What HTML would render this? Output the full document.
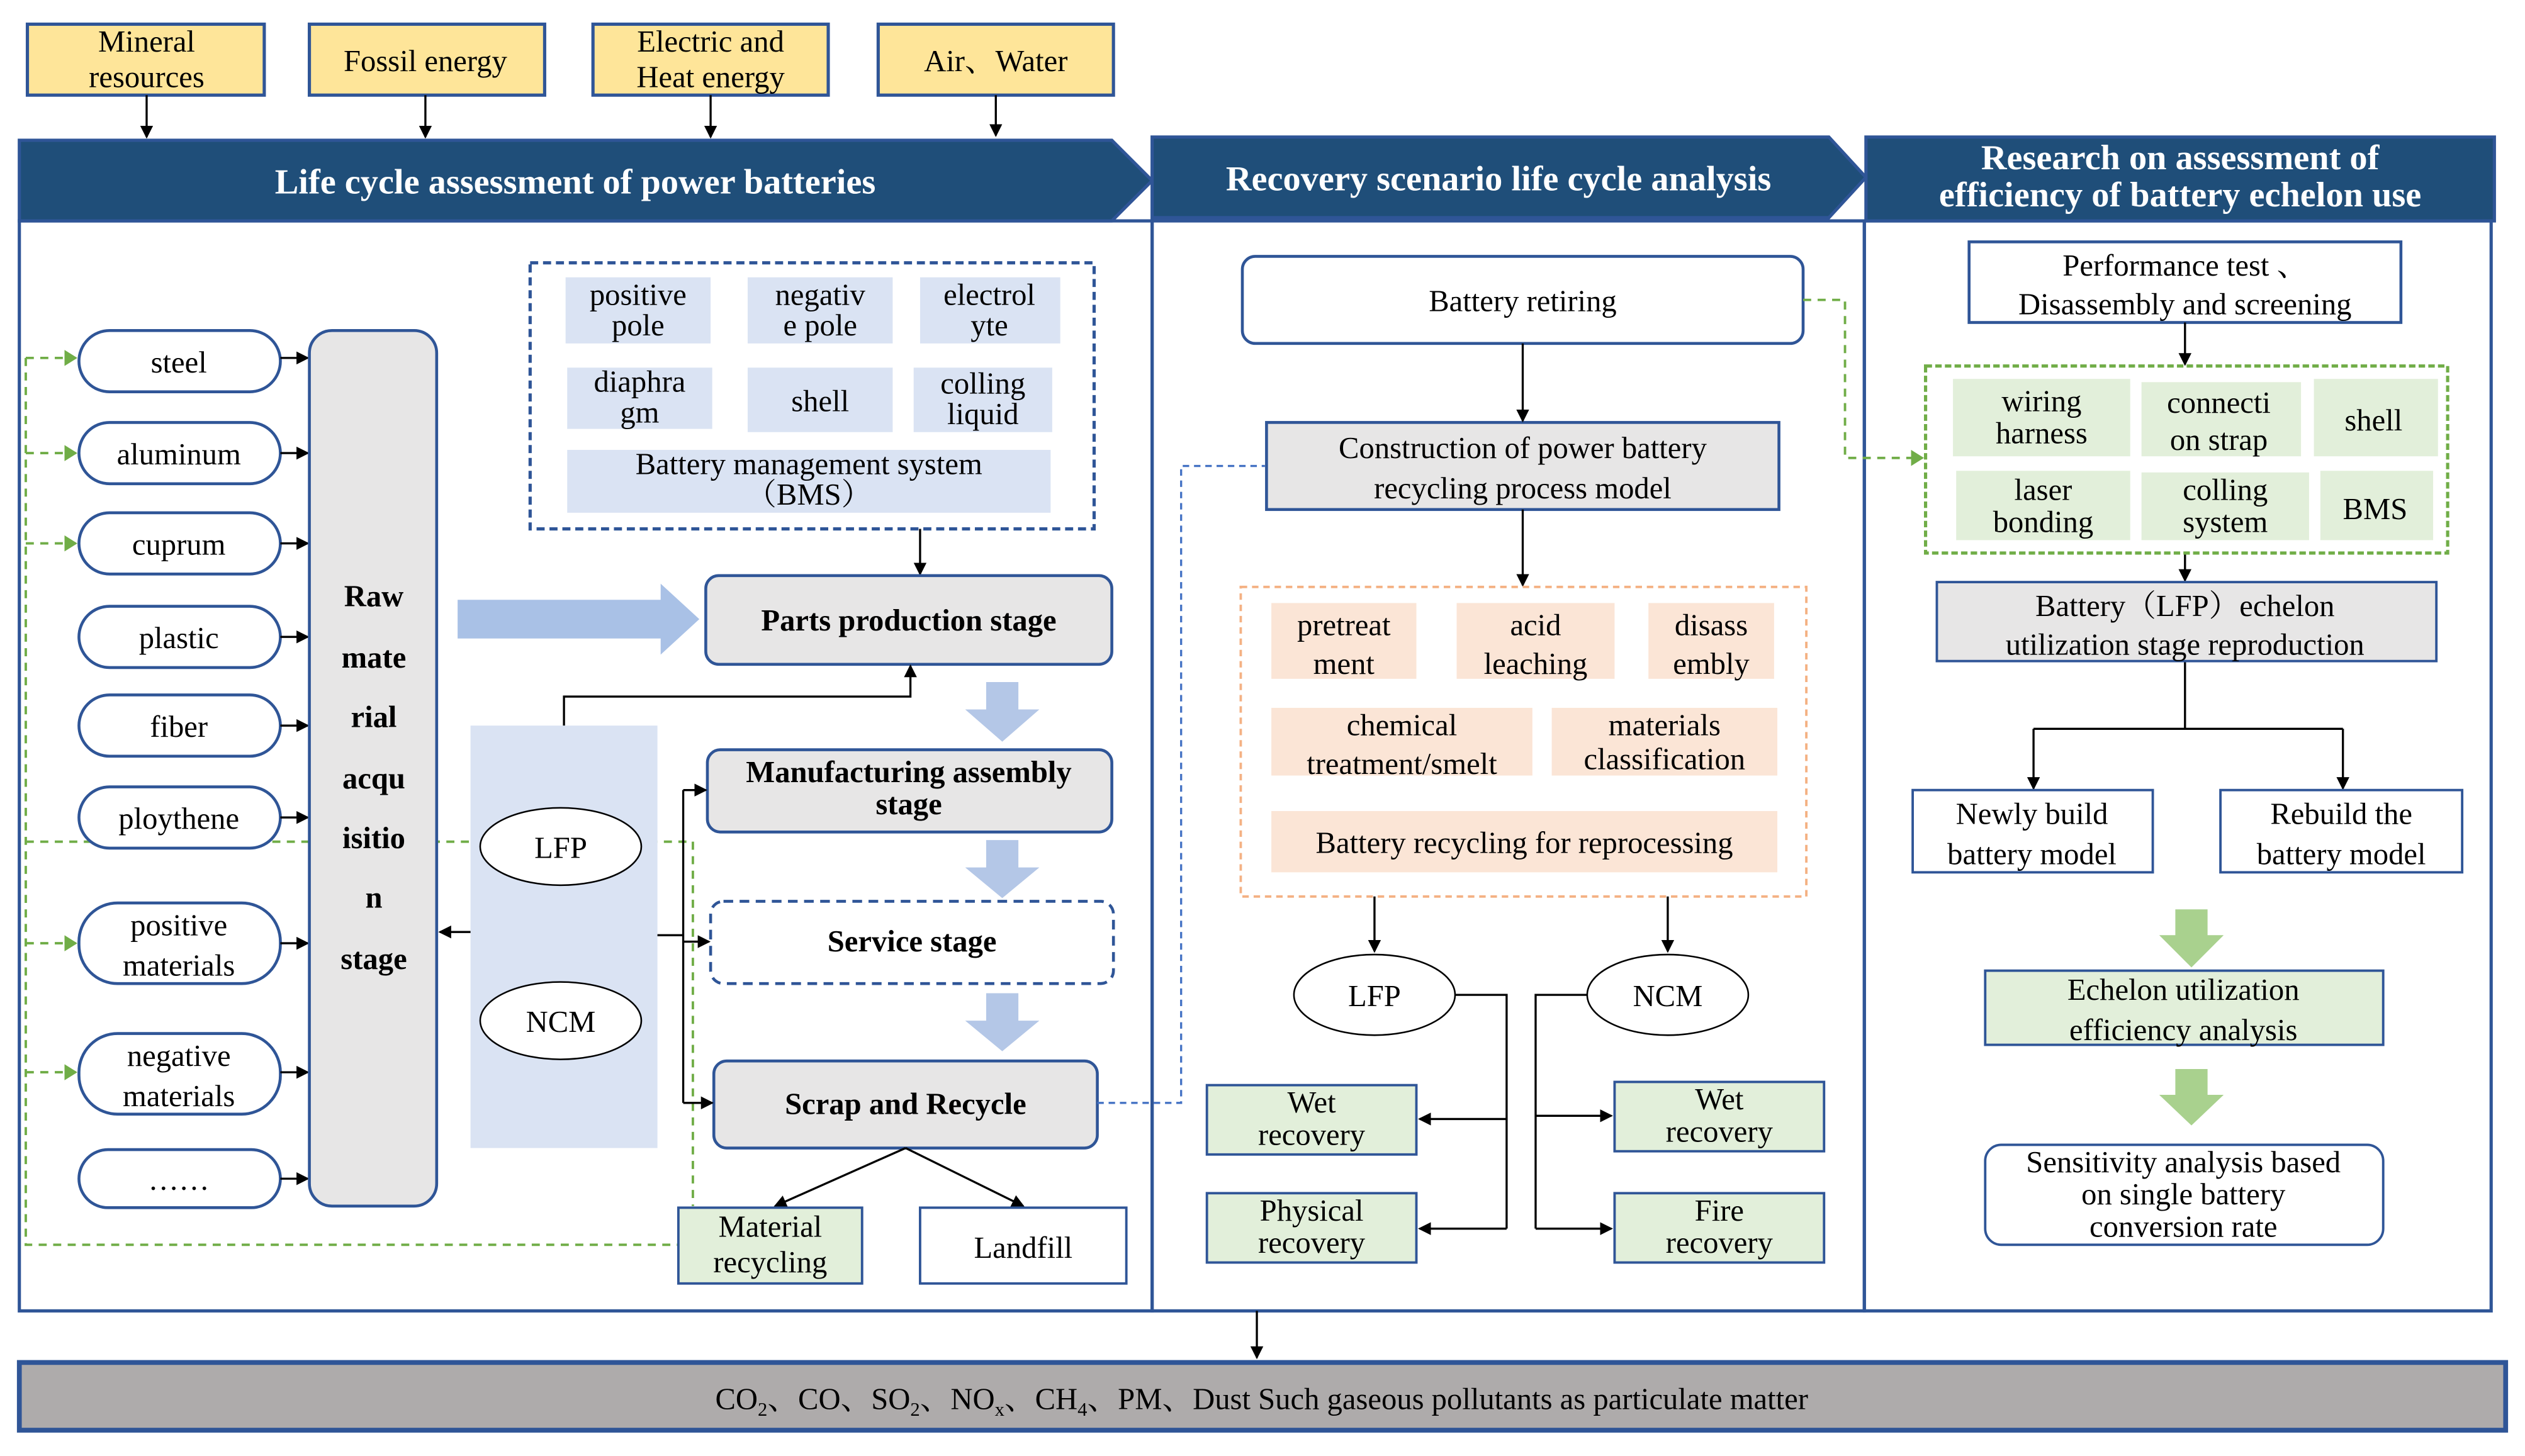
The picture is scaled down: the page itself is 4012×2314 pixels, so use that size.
<!DOCTYPE html>
<html><head><meta charset="utf-8"><style>
html,body{margin:0;padding:0;background:#fff;}
svg{display:block;}
text{font-family:"Liberation Serif","Noto Serif CJK SC",serif;font-size:19px;fill:#000;text-anchor:middle;}
.b{font-weight:bold;}
.w{fill:#fff;font-weight:bold;font-size:22px;}
</style></head><body>
<svg width="4012" height="2314" viewBox="0 0 1567 903" preserveAspectRatio="none" xmlns="http://www.w3.org/2000/svg">
<defs>
<marker id="a" markerWidth="8" markerHeight="8" refX="7" refY="4" orient="auto" markerUnits="userSpaceOnUse"><path d="M0,0 L8,4 L0,8z" fill="#000"/></marker>
<marker id="g" markerWidth="8" markerHeight="10" refX="7" refY="5" orient="auto" markerUnits="userSpaceOnUse"><path d="M0,0 L8,5 L0,10z" fill="#70ad47"/></marker>
</defs>
<g stroke="#2f5597" stroke-width="2" fill="#fee599">
<rect x="17" y="15" width="147" height="44"/><rect x="192" y="15" width="146" height="44"/>
<rect x="368" y="15" width="146" height="44"/><rect x="545" y="15" width="146" height="44"/>
</g>
<text x="91" y="32">Mineral</text><text x="91" y="54">resources</text>
<text x="264" y="44">Fossil energy</text>
<text x="441" y="32">Electric and</text><text x="441" y="54">Heat energy</text>
<text x="618" y="44">Air、Water</text>
<g stroke="#000" stroke-width="1.3" marker-end="url(#a)">
<line x1="91" y1="59" x2="91" y2="85"/><line x1="264" y1="59" x2="264" y2="85"/>
<line x1="441" y1="59" x2="441" y2="85"/><line x1="618" y1="59" x2="618" y2="84"/>
</g>
<g fill="#1f4e79" stroke="#2f5597" stroke-width="2">
<polygon points="12,87 690,87 715,112 690,137 12,137"/>
<polygon points="715,85 1135,85 1158,110 1135,135 715,135"/>
<rect x="1158" y="85" width="390" height="52"/>
</g>
<text class="w" x="357" y="120">Life cycle assessment of power batteries</text>
<text class="w" x="930" y="118">Recovery scenario life cycle analysis</text>
<text class="w" x="1353" y="105">Research on assessment of</text>
<text class="w" x="1353" y="128">efficiency of battery echelon use</text>
<g fill="none" stroke="#2f5597" stroke-width="2">
<rect x="12" y="137" width="703" height="676"/><rect x="715" y="137" width="442" height="676"/><rect x="1157" y="137" width="389" height="676"/>
</g>
<line x1="780" y1="813" x2="780" y2="842" stroke="#000" stroke-width="1.3" marker-end="url(#a)"/>
<rect x="12" y="845" width="1543" height="42" fill="#aeabab" stroke="#2f5597" stroke-width="3"/>
<text x="783" y="874">CO<tspan font-size="12" dy="4">2</tspan><tspan dy="-4">、CO、SO</tspan><tspan font-size="12" dy="4">2</tspan><tspan dy="-4">、NO</tspan><tspan font-size="12" dy="4">x</tspan><tspan dy="-4">、CH</tspan><tspan font-size="12" dy="4">4</tspan><tspan dy="-4">、PM、Dust Such gaseous pollutants as particulate matter</tspan></text>

<g fill="none" stroke="#70ad47" stroke-width="1.5" stroke-dasharray="5,4">
<polyline points="16,222 16,772 421,772"/>
<line x1="16" y1="522" x2="430" y2="522"/><line x1="430" y1="522" x2="430" y2="748"/>
<line x1="16" y1="222" x2="47" y2="222" marker-end="url(#g)"/>
<line x1="16" y1="281" x2="47" y2="281" marker-end="url(#g)"/>
<line x1="16" y1="337" x2="47" y2="337" marker-end="url(#g)"/>
<line x1="16" y1="585" x2="47" y2="585" marker-end="url(#g)"/>
<line x1="16" y1="665" x2="47" y2="665" marker-end="url(#g)"/>
</g>
<g fill="#fff" stroke="#2f5597" stroke-width="1.8">
<rect x="49" y="205" width="125" height="38" rx="19"/><rect x="49" y="262" width="125" height="38" rx="19"/>
<rect x="49" y="318" width="125" height="38" rx="19"/><rect x="49" y="376" width="125" height="38" rx="19"/>
<rect x="49" y="431" width="125" height="38" rx="19"/><rect x="49" y="488" width="125" height="38" rx="19"/>
<rect x="49" y="560" width="125" height="50" rx="24"/><rect x="49" y="641" width="125" height="50" rx="24"/>
<rect x="49" y="713" width="125" height="36" rx="18"/>
</g>
<text x="111" y="231">steel</text><text x="111" y="288">aluminum</text><text x="111" y="344">cuprum</text>
<text x="111" y="402">plastic</text><text x="111" y="457">fiber</text><text x="111" y="514">ploythene</text>
<text x="111" y="580">positive</text><text x="111" y="605">materials</text>
<text x="111" y="661">negative</text><text x="111" y="686">materials</text><text x="111" y="738">……</text>
<g stroke="#000" stroke-width="1.3" marker-end="url(#a)">
<line x1="174" y1="222" x2="191" y2="222"/><line x1="174" y1="281" x2="191" y2="281"/><line x1="174" y1="337" x2="191" y2="337"/>
<line x1="174" y1="395" x2="191" y2="395"/><line x1="174" y1="450" x2="191" y2="450"/><line x1="174" y1="507" x2="191" y2="507"/>
<line x1="174" y1="585" x2="191" y2="585"/><line x1="174" y1="665" x2="191" y2="665"/><line x1="174" y1="731" x2="191" y2="731"/>
</g>
<rect x="192" y="205" width="79" height="543" rx="14" fill="#e7e6e6" stroke="#2f5597" stroke-width="1.8"/>
<text class="b" x="232" y="376">Raw</text><text class="b" x="232" y="414">mate</text><text class="b" x="232" y="451">rial</text>
<text class="b" x="232" y="489">acqu</text><text class="b" x="232" y="526">isitio</text><text class="b" x="232" y="563">n</text><text class="b" x="232" y="601">stage</text>

<rect x="329" y="163" width="350" height="165" fill="none" stroke="#2f5597" stroke-width="2" stroke-dasharray="5,3"/>
<g fill="#dae3f3">
<rect x="351" y="172" width="90" height="41"/><rect x="464" y="172" width="90" height="41"/><rect x="571" y="172" width="87" height="41"/>
<rect x="352" y="228" width="90" height="38"/><rect x="464" y="228" width="90" height="40"/><rect x="567" y="228" width="86" height="40"/>
<rect x="352" y="279" width="300" height="39"/>
</g>
<text x="396" y="189">positive</text><text x="396" y="208">pole</text>
<text x="509" y="189">negativ</text><text x="509" y="208">e pole</text>
<text x="614" y="189">electrol</text><text x="614" y="208">yte</text>
<text x="397" y="243">diaphra</text><text x="397" y="262">gm</text>
<text x="509" y="255">shell</text>
<text x="610" y="244">colling</text><text x="610" y="263">liquid</text>
<text x="502" y="294">Battery management system</text><text x="502" y="313">（BMS）</text>
<line x1="571" y1="328" x2="571" y2="356" stroke="#000" stroke-width="1.3" marker-end="url(#a)"/>
<polygon points="284,372 410,372 410,362 434,384 410,406 410,396 284,396" fill="#a9c1e6"/>
<g stroke="#2f5597" stroke-width="1.8">
<rect x="438" y="357" width="252" height="55" rx="8" fill="#e7e6e6"/>
<rect x="439" y="465" width="251" height="51" rx="8" fill="#e7e6e6"/>
<rect x="441" y="559" width="250" height="51" rx="8" fill="#fff" stroke-dasharray="6,4"/>
<rect x="443" y="658" width="238" height="54" rx="8" fill="#e7e6e6"/>
</g>
<text class="b" x="564" y="391">Parts production stage</text>
<text class="b" x="564" y="485">Manufacturing assembly</text><text class="b" x="564" y="505">stage</text>
<text class="b" x="566" y="590">Service stage</text>
<text class="b" x="562" y="691">Scrap and Recycle</text>
<g fill="#b4c7e7">
<polygon points="612,423 632,423 632,440 645,440 622,460 599,440 612,440"/>
<polygon points="612,521 632,521 632,538 645,538 622,557 599,538 612,538"/>
<polygon points="612,616 632,616 632,633 645,633 622,652 599,633 612,633"/>
</g>
<rect x="292" y="450" width="116" height="262" fill="#dae3f3"/>
<ellipse cx="348" cy="525" rx="50" ry="24" fill="#fff" stroke="#000" stroke-width="1"/>
<ellipse cx="348" cy="633" rx="50" ry="24" fill="#fff" stroke="#000" stroke-width="1"/>
<text x="348" y="532">LFP</text><text x="348" y="640">NCM</text>
<g stroke="#000" stroke-width="1.3" fill="none">
<line x1="292" y1="578" x2="273" y2="578" marker-end="url(#a)"/>
<polyline points="350,450 350,432 565,432 565,413" marker-end="url(#a)"/>
<line x1="408" y1="580" x2="424" y2="580"/><line x1="424" y1="490" x2="424" y2="684"/>
<line x1="424" y1="490" x2="438" y2="490" marker-end="url(#a)"/>
<line x1="424" y1="584" x2="440" y2="584" marker-end="url(#a)"/>
<line x1="424" y1="684" x2="442" y2="684" marker-end="url(#a)"/>
<line x1="562" y1="712" x2="481" y2="748" marker-end="url(#a)"/>
<line x1="562" y1="712" x2="635" y2="748" marker-end="url(#a)"/>
</g>
<rect x="421" y="749" width="114" height="47" fill="#e2efda" stroke="#2f5597" stroke-width="1.5"/>
<rect x="571" y="749" width="128" height="47" fill="#fff" stroke="#2f5597" stroke-width="1.5"/>
<text x="478" y="767">Material</text><text x="478" y="789">recycling</text><text x="635" y="780">Landfill</text>
<polyline points="681,684 733,684 733,289 785,289" fill="none" stroke="#4472c4" stroke-width="1.3" stroke-dasharray="4,3"/>

<rect x="771" y="159" width="348" height="54" rx="8" fill="#fff" stroke="#2f5597" stroke-width="1.8"/>
<text x="945" y="193">Battery retiring</text>
<rect x="786" y="262" width="318" height="54" fill="#e7e6e6" stroke="#2f5597" stroke-width="1.8"/>
<text x="945" y="284">Construction of power battery</text><text x="945" y="309">recycling process model</text>
<g stroke="#000" stroke-width="1.3" fill="none" marker-end="url(#a)">
<line x1="945" y1="213" x2="945" y2="261"/><line x1="945" y1="316" x2="945" y2="363"/>
<line x1="853" y1="556" x2="853" y2="590"/><line x1="1035" y1="556" x2="1035" y2="590"/>
</g>
<rect x="770" y="364" width="351" height="192" fill="none" stroke="#f4b183" stroke-width="1.5" stroke-dasharray="4,3"/>
<g fill="#fbe5d6">
<rect x="789" y="374" width="90" height="47"/><rect x="904" y="374" width="98" height="47"/><rect x="1023" y="374" width="78" height="47"/>
<rect x="789" y="439" width="162" height="42"/><rect x="963" y="439" width="140" height="42"/><rect x="789" y="503" width="314" height="38"/>
</g>
<text x="834" y="394">pretreat</text><text x="834" y="418">ment</text>
<text x="953" y="394">acid</text><text x="953" y="418">leaching</text>
<text x="1062" y="394">disass</text><text x="1062" y="418">embly</text>
<text x="870" y="456">chemical</text><text x="870" y="480">treatment/smelt</text>
<text x="1033" y="456">materials</text><text x="1033" y="477">classification</text>
<text x="946" y="529">Battery recycling for reprocessing</text>
<ellipse cx="853" cy="617" rx="50" ry="25" fill="#fff" stroke="#000" stroke-width="1"/>
<ellipse cx="1035" cy="617" rx="50" ry="25" fill="#fff" stroke="#000" stroke-width="1"/>
<text x="853" y="624">LFP</text><text x="1035" y="624">NCM</text>
<g fill="#e2efda" stroke="#2f5597" stroke-width="1.5">
<rect x="749" y="673" width="130" height="43"/><rect x="749" y="740" width="130" height="43"/>
<rect x="1002" y="671" width="130" height="43"/><rect x="1002" y="740" width="130" height="43"/>
</g>
<text x="814" y="690">Wet</text><text x="814" y="710">recovery</text>
<text x="814" y="757">Physical</text><text x="814" y="777">recovery</text>
<text x="1067" y="688">Wet</text><text x="1067" y="708">recovery</text>
<text x="1067" y="757">Fire</text><text x="1067" y="777">recovery</text>
<g stroke="#000" stroke-width="1.3" fill="none">
<polyline points="903,617 935,617 935,762"/>
<line x1="935" y1="694" x2="881" y2="694" marker-end="url(#a)"/>
<line x1="935" y1="762" x2="881" y2="762" marker-end="url(#a)"/>
<polyline points="985,617 953,617 953,762"/>
<line x1="953" y1="692" x2="1000" y2="692" marker-end="url(#a)"/>
<line x1="953" y1="762" x2="1000" y2="762" marker-end="url(#a)"/>
</g>
<polyline points="1119,186 1145,186 1145,284 1193,284" fill="none" stroke="#70ad47" stroke-width="1.5" stroke-dasharray="5,4" marker-end="url(#g)"/>

<rect x="1222" y="150" width="268" height="50" fill="#fff" stroke="#2f5597" stroke-width="1.8"/>
<text x="1356" y="171">Performance test 、</text><text x="1356" y="195">Disassembly and screening</text>
<g stroke="#000" stroke-width="1.3" fill="none">
<line x1="1356" y1="200" x2="1356" y2="226" marker-end="url(#a)"/>
<line x1="1356" y1="343" x2="1356" y2="360" marker-end="url(#a)"/>
<line x1="1356" y1="410" x2="1356" y2="452"/><line x1="1262" y1="452" x2="1454" y2="452"/>
<line x1="1262" y1="452" x2="1262" y2="489" marker-end="url(#a)"/>
<line x1="1454" y1="452" x2="1454" y2="489" marker-end="url(#a)"/>
</g>
<rect x="1195" y="227" width="324" height="116" fill="none" stroke="#70ad47" stroke-width="2" stroke-dasharray="4,2"/>
<g fill="#e2efda">
<rect x="1212" y="235" width="110" height="48"/><rect x="1329" y="237" width="99" height="46"/><rect x="1436" y="235" width="77" height="48"/>
<rect x="1214" y="292" width="108" height="43"/><rect x="1329" y="293" width="104" height="42"/><rect x="1440" y="292" width="70" height="43"/>
</g>
<text x="1267" y="255">wiring</text><text x="1267" y="275">harness</text>
<text x="1377" y="256">connecti</text><text x="1377" y="279">on strap</text>
<text x="1473" y="267">shell</text>
<text x="1268" y="310">laser</text><text x="1268" y="330">bonding</text>
<text x="1381" y="310">colling</text><text x="1381" y="330">system</text>
<text x="1474" y="322">BMS</text>
<rect x="1202" y="361" width="310" height="49" fill="#e7e6e6" stroke="#2f5597" stroke-width="1.5"/>
<text x="1356" y="382">Battery（LFP）echelon</text><text x="1356" y="406">utilization stage reproduction</text>
<rect x="1187" y="490" width="149" height="51" fill="#fff" stroke="#2f5597" stroke-width="1.5"/>
<rect x="1378" y="490" width="150" height="51" fill="#fff" stroke="#2f5597" stroke-width="1.5"/>
<text x="1261" y="511">Newly build</text><text x="1261" y="536">battery model</text>
<text x="1453" y="511">Rebuild the</text><text x="1453" y="536">battery model</text>
<g fill="#a9d18e">
<polygon points="1350,564 1370,564 1370,580 1380,580 1360,600 1340,580 1350,580"/>
<polygon points="1350,663 1370,663 1370,679 1380,679 1360,698 1340,679 1350,679"/>
</g>
<rect x="1232" y="602" width="247" height="46" fill="#e2efda" stroke="#2f5597" stroke-width="1.5"/>
<text x="1355" y="620">Echelon utilization</text><text x="1355" y="645">efficiency analysis</text>
<rect x="1232" y="710" width="247" height="62" rx="10" fill="#fff" stroke="#2f5597" stroke-width="1.5"/>
<text x="1355" y="727">Sensitivity analysis based</text><text x="1355" y="747">on single battery</text><text x="1355" y="767">conversion rate</text>
</svg>
</body></html>
